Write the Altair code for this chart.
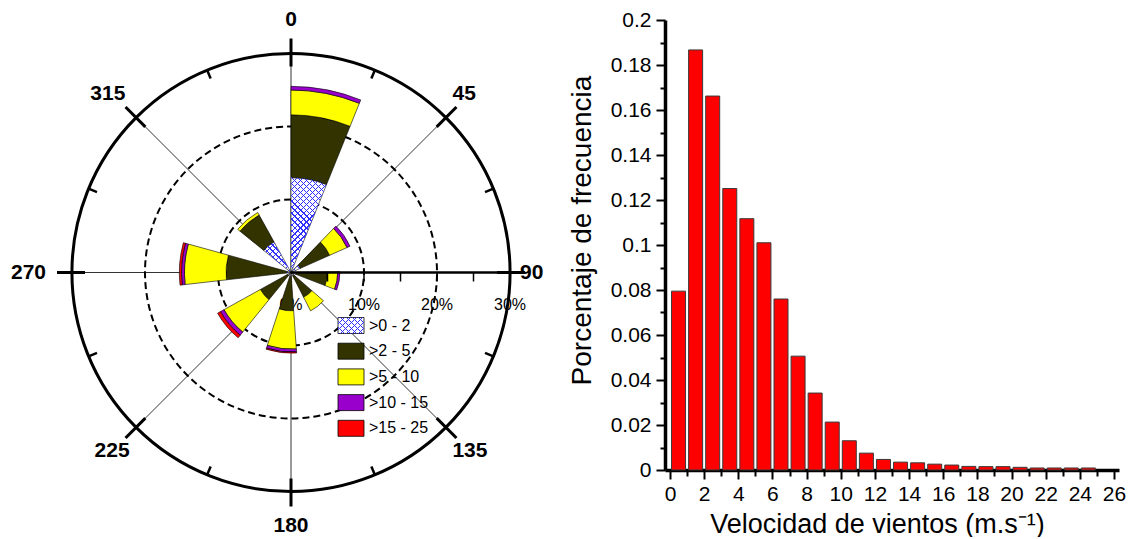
import math
import altair as alt
import pandas as pd

# ---------------- wind rose data (percent of time) ----------------
directions = ["N", "NE", "E", "SE", "S", "SW", "W", "NW"]
dir_start = [0, 44, 89, 131, 176, 219, 263.5, 309]      # degrees clockwise from north
dir_width = 22
speed_classes = [">0 - 2", ">2 - 5", ">5 - 10", ">10 - 15", ">15 - 25"]
freq_0_2 = [13.0, 1.4, 0.7, 0.5, 0.5, 0.5, 0.5, 4.8]
freq_2_5 = [8.6, 4.4, 4.3, 3.3, 4.75, 4.3, 8.4, 4.2]
freq_5_10 = [3.4, 2.6, 1.4, 2.1, 5.25, 5.7, 5.7, 0.4]
freq_10_15 = [0.5, 0.45, 0.3, 0.0, 0.4, 0.55, 0.4, 0.0]
freq_15_25 = [0.0, 0.0, 0.0, 0.0, 0.15, 0.45, 0.3, 0.0]
class_colors = ["#ffffff", "#333300", "#ffff00", "#9900cc", "#ff0000"]
HATCH_COLOR = "#3030ff"

compass_angles = [0, 45, 90, 135, 180, 225, 270, 315]
compass_labels = ["0", "45", "90", "135", "180", "225", "270", "315"]
minor_angles = [22.5, 67.5, 112.5, 157.5, 202.5, 247.5, 292.5, 337.5]
ring_pcts = [10, 20]
outer_pct = [30]
radial_tick_pcts = [5, 10, 15, 20, 25, 30]
radial_label_pcts = [0, 10, 20, 30]
radial_labels = ["0%", "10%", "20%", "30%"]

# ---------------- histogram data ----------------
speed_bin_start = list(range(25))
speed_freq = [0.0795, 0.1867, 0.1662, 0.1251, 0.1117, 0.1010, 0.0760, 0.0506,
              0.0342, 0.0213, 0.0130, 0.0075, 0.0047, 0.0035, 0.0032, 0.0026,
              0.0022, 0.0016, 0.0015, 0.0015, 0.0012, 0.0009, 0.0009, 0.0009, 0.0009]
x_tick_values = list(range(27))
y_tick_values = [round(i * 0.01, 2) for i in range(21)]

FONT = "Liberation Sans"

# ---------------- rose geometry ----------------
R_PX = 219.0                 # pixel radius of the 30 % circle
PX = R_PX / 30.0             # pixels per percent
W1, H1 = 566, 505
XH, YH = W1 / 2 / PX, H1 / 2 / PX

xs = alt.Scale(domain=[-XH, XH], nice=False, zero=False)
ys = alt.Scale(domain=[-YH, YH], nice=False, zero=False)
rs = alt.Scale(type="linear", domain=[0, 30], range=[0, R_PX], zero=True, nice=False)
ts = alt.Scale(domain=[0, 360], range=[0, 2 * math.pi])
cs = alt.Scale(domain=speed_classes, range=class_colors)


def pol(a, r):
    t = math.radians(a)
    return r * math.sin(t), r * math.cos(t)


def rules_df(angles, r0, r1):
    rows = []
    for a in angles:
        x0, y0 = pol(a, r0)
        x1, y1 = pol(a, r1)
        rows.append({"x": x0, "y": y0, "x2": x1, "y2": y1})
    return pd.DataFrame(rows)


def rule_layer(df, width, color="black"):
    return alt.Chart(df).mark_rule(color=color, strokeWidth=width, strokeCap="butt").encode(
        x=alt.X("x:Q", scale=xs, axis=None), y=alt.Y("y:Q", scale=ys, axis=None),
        x2="x2:Q", y2="y2:Q")


def hatch_fills(w, h, period=4.2, line=0.9):
    """Two diagonal stripe gradients (objectBoundingBox units) forming a crosshatch."""
    k = (w + h) / (w * w + h * h)
    span = (w + h) / math.sqrt(2)
    n = max(span / period, 1.0)
    frac = min(line / period, 0.5)
    stops = []
    i = 0
    clear = "rgba(255,255,255,0)"
    while i < n:
        a = i / n
        b = min((i + frac) / n, 1.0)
        c = min((i + 1) / n, 1.0)
        stops += [{"offset": a, "color": HATCH_COLOR}, {"offset": b, "color": HATCH_COLOR},
                  {"offset": b, "color": clear}, {"offset": c, "color": clear}]
        i += 1
    g1 = {"gradient": "linear", "x1": 0, "y1": 1, "x2": k * w, "y2": 1 - k * h, "stops": stops}
    g2 = {"gradient": "linear", "x1": 0, "y1": 0, "x2": k * w, "y2": k * h, "stops": stops}
    return g1, g2


def wedge_bbox(a0, a1, r0, r1):
    pts = []
    angs = [a0, a1] + [c for c in (0, 90, 180, 270, 360) if a0 < c < a1]
    for a in angs:
        pts.append(pol(a, r1))
    if r0 > 0:
        pts += [pol(a0, r0), pol(a1, r0)]
    else:
        pts.append((0.0, 0.0))
    xsv = [p[0] for p in pts]
    ysv = [p[1] for p in pts]
    return (max(xsv) - min(xsv)) * PX, (max(ysv) - min(ysv)) * PX


# petals
rows = []
all_freqs = [freq_0_2, freq_2_5, freq_5_10, freq_10_15, freq_15_25]
for i, d in enumerate(directions):
    cum = 0.0
    for cls, vals in zip(speed_classes, all_freqs):
        v = vals[i]
        if v > 0:
            rows.append({"dir": d, "cls": cls, "a0": dir_start[i], "a1": dir_start[i] + dir_width,
                         "r0": cum, "r1": cum + v})
        cum += v
petal_df = pd.DataFrame(rows)


def arc_enc():
    return dict(theta=alt.Theta("a0:Q", scale=ts, stack=None), theta2="a1:Q",
                radius=alt.Radius("r1:Q", scale=rs, stack=None), radius2="r0:Q")


petals = alt.Chart(petal_df).mark_arc(stroke="black", strokeWidth=0.6).encode(
    color=alt.Color("cls:N", scale=cs, legend=None), **arc_enc())

hatch_layers = []
for _, row in petal_df[petal_df["cls"] == speed_classes[0]].iterrows():
    w, h = wedge_bbox(row["a0"], row["a1"], row["r0"], row["r1"])
    for g in hatch_fills(w, h):
        hatch_layers.append(
            alt.Chart(pd.DataFrame([row])).mark_arc(fill=g, strokeWidth=0).encode(**arc_enc()))

thin_radials = rule_layer(rules_df([a for a in compass_angles if a != 90], 0, 30), 0.8)
east_axis = rule_layer(rules_df([90], 0, 30), 2.5)

rings = alt.Chart(pd.DataFrame({"r": ring_pcts})).mark_arc(
    theta=0, theta2=2 * math.pi, filled=False, color="black", strokeWidth=2, strokeDash=[7, 4]
).encode(radius=alt.Radius("r:Q", scale=rs, stack=None))
outer = alt.Chart(pd.DataFrame({"r": outer_pct})).mark_arc(
    theta=0, theta2=2 * math.pi, filled=False, color="black", strokeWidth=3
).encode(radius=alt.Radius("r:Q", scale=rs, stack=None))

major_ticks = rule_layer(rules_df(compass_angles, 30 - 13 / PX, 30 + 15 / PX), 3)
minor_ticks = rule_layer(rules_df(minor_angles, 30 - 9 / PX, 30), 2.5)
rt = pd.DataFrame({"x": radial_tick_pcts, "y": [0] * len(radial_tick_pcts),
                   "x2": radial_tick_pcts, "y2": [-9 / PX] * len(radial_tick_pcts)})
radial_ticks = rule_layer(rt, 1.5)

rl = pd.DataFrame({"x": radial_label_pcts, "y": [-32 / PX] * 4, "t": radial_labels})
radial_text = alt.Chart(rl).mark_text(font=FONT, fontSize=16, align="center", baseline="middle",
                                      color="black").encode(
    x=alt.X("x:Q", scale=xs, axis=None), y=alt.Y("y:Q", scale=ys, axis=None), text="t:N")


def compass_layer(sel, dist_px, align, dx=0):
    rws = []
    for a, lab in zip(compass_angles, compass_labels):
        if sel(a):
            x, y = pol(a, dist_px / PX)
            rws.append({"x": x, "y": y, "t": lab})
    return alt.Chart(pd.DataFrame(rws)).mark_text(
        font=FONT, fontSize=21, fontWeight="bold", align=align, baseline="middle", color="black",
        dx=dx
    ).encode(x=alt.X("x:Q", scale=xs, axis=None), y=alt.Y("y:Q", scale=ys, axis=None), text="t:N")


lab_center = compass_layer(lambda a: a in (0, 135, 180, 225), 253, "center")
lab_topdiag = compass_layer(lambda a: a in (45, 315), 252, "center", dx=-5)
lab_right = compass_layer(lambda a: a == 90, 229, "left")
lab_left = compass_layer(lambda a: a == 270, 245, "right")

# legend (drawn inside the rose)
leg_rows = []
for i, cls in enumerate(speed_classes):
    yc = -(53 + i * 25.7) / PX
    leg_rows.append({"cls": cls, "x0": 47 / PX, "x1": 73 / PX, "y0": yc - 8 / PX, "y1": yc + 8 / PX,
                     "xt": 78 / PX, "yc": yc})
leg_df = pd.DataFrame(leg_rows)


def leg_rect_enc():
    return dict(x=alt.X("x0:Q", scale=xs, axis=None), x2="x1:Q",
                y=alt.Y("y0:Q", scale=ys, axis=None), y2="y1:Q")


leg_rect = alt.Chart(leg_df).mark_rect(stroke="black", strokeWidth=0.8).encode(
    color=alt.Color("cls:N", scale=cs, legend=None), **leg_rect_enc())
leg_hatch = [alt.Chart(leg_df.iloc[[0]]).mark_rect(fill=g, strokeWidth=0).encode(**leg_rect_enc())
             for g in hatch_fills(26, 16)]
leg_text = alt.Chart(leg_df).mark_text(font=FONT, fontSize=16, align="left", baseline="middle",
                                       color="black").encode(
    x=alt.X("xt:Q", scale=xs, axis=None), y=alt.Y("yc:Q", scale=ys, axis=None), text="cls:N")

rose = alt.layer(
    thin_radials, rings, radial_text, petals, *hatch_layers, outer, major_ticks, minor_ticks,
    east_axis, radial_ticks, lab_center, lab_topdiag, lab_right, lab_left,
    leg_rect, *leg_hatch, leg_text
).properties(width=W1, height=H1)

# ---------------- histogram ----------------
hist_df = pd.DataFrame({"start": speed_bin_start, "freq": speed_freq})
hist_df["center"] = hist_df["start"] + 0.5

HW, HH = 454, 450
even_x = "datum.value % 2 === 0"
even_y = "abs(datum.value * 50 - round(datum.value * 50)) < 0.001"

x_axis = alt.Axis(
    values=x_tick_values, labelExpr=f"{even_x} ? datum.label : ''",
    tickSize={"condition": {"test": even_x, "value": 9}, "value": 6},
    tickWidth=2, tickColor="black", domainColor="black", domainWidth=3.5,
    labelFont=FONT, labelFontSize=21, labelColor="black", labelPadding=4,
    labelOverlap=False, labelFlush=False, grid=False,
    title="Velocidad de vientos (m.s⁻¹)", titleFont=FONT, titleFontSize=27,
    titleFontWeight="normal", titleColor="black", titleX=212, titleY=54,
    titleBaseline="middle", titleAlign="center")
y_axis = alt.Axis(
    values=y_tick_values,
    labelExpr=f"{even_y} ? '' + round(datum.value * 100) / 100 : ''",
    tickSize={"condition": {"test": even_y, "value": 9}, "value": 5},
    tickWidth=2, tickColor="black", domainColor="black", domainWidth=3.5,
    labelFont=FONT, labelFontSize=21, labelColor="black", labelPadding=5,
    labelOverlap=False, labelFlush=False, grid=False,
    title="Porcentaje de frecuencia", titleFont=FONT, titleFontSize=28,
    titleFontWeight="normal", titleColor="black", titleX=-83, titleY=210,
    titleAngle=270, titleBaseline="middle", titleAlign="center")

hist = alt.Chart(hist_df).mark_bar(width=14, color="#ff0000", stroke="#3a3a3a", strokeWidth=1).encode(
    x=alt.X("center:Q", scale=alt.Scale(domain=[0, 26], nice=False, zero=False), axis=x_axis),
    y=alt.Y("freq:Q", scale=alt.Scale(domain=[0, 0.2], nice=False), axis=y_axis),
).properties(width=HW, height=HH)

chart = alt.hconcat(rose, hist, spacing=91, bounds="flush").properties(
    padding={"left": 0, "top": 0, "right": 0, "bottom": 0}
).configure_view(stroke=None)

chart.save("out.html", embed_options={"renderer": "svg", "actions": False})
